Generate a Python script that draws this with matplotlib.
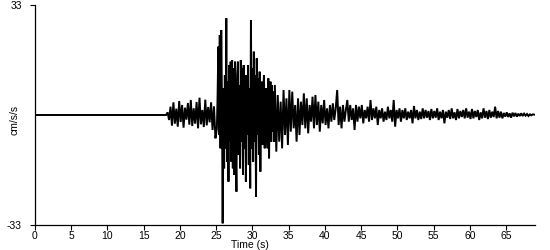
import numpy as np
import matplotlib
matplotlib.use("Agg")
import matplotlib.pyplot as plt

# ground acceleration record, cm/s/s
quiet_end = 18.1          # trace is flat until here

# P-wave arrival, 18.3 .. 24.9 s, every 0.2 s
p_start, p_dt = 18.3, 0.2
p_wave = [0.8, -1.5, 2.5, -3.2, 3.8, -2.6, 1.9, -3.5, 4.2, -2.1,
          3.0, -3.8, 2.2, -1.4, 3.6, -2.9, 4.5, -3.3, 2.0, -2.6,
          3.9, -4.0, 5.2, -2.8, 1.5, -3.6, 4.6, -3.1, 2.4, -2.2,
          3.8, -4.5, 2.6, -7.0]

# strong shaking, 25.1 .. 33.0 s, every 0.1 s
s_start, s_dt = 25.1, 0.1
s_wave = [-4, 6, 20.5, -6, 24, -10, 25.5, 4, -32.5, 8,
          -16, 12, -10, 29, -14, 10, -20, 15, -8, 16,
          -14, 16.5, -16, 14, -18, 16, -10, -23, 12, 16,
          -12, 9, -16, 16.5, -8, 14, -18, 15, -10, 12,
          -20, 12, -6, 15, -15, 8, -22, 28.5, -10, 14,
          -14, 19, -8, 12, -24.5, 17, -6, 11, -12, 13,
          -17, 6, 10, -9, 7, 12, -10, 4, 8, -6,
          -10, 11, -13, 6, 10, -8, 9, -5, 7, -8]

# coda, 33.1 .. 68.9 s, every 0.2 s
c_start, c_dt = 33.1, 0.2
coda = [9, -11, 6, -8, 4, -10, 7.5, -6, 5, -9,
        7.5, -5, 7, -4, 3, -8, 5, -6, 4, -3,
        6.5, -4, 5, -5.5, 3, -2, 5.5, -4, 6, -3,
        4, -5, 3, -2.5, 4.5, -3, 2, -4, 3, -2,
        3.5, -1.5, 2, 7.5, -3, 2.5, -4, 3, -2, 1.5,
        4.5, -2, 3, -1.5, 2, -4.5, 3, -2, 2.5, -1,
        3, -2.5, 1.5, -1, 2.5, -2, 4.5, -1.5, 2, -1,
        2.5, -3, 1.5, -1, 2, -2, 1, -1.5, 2.5, -1,
        1.5, -2, 4.5, -3.5, 1.5, -1, 2, -2, 1.5, -1,
        2, -1.5, 1, -1, 1.5, -2.5, 2.7, -1, 1.5, -1.5,
        1, -1.2, 2, -1, 1.5, -0.8, 1.2, -1.5, 1.8, -1,
        1.2, -0.8, 2, -1.5, 1, -1, 1.5, -2.5, 1, -0.8,
        1.5, -1.2, 2, -1, 0.8, -1.5, 1.8, -1, 1.2, -0.6,
        1.5, -1, 2, -0.8, 1, -1.2, 1.8, -1, 1.2, -0.6,
        1.5, -1.5, 0.8, -1, 2, -0.8, 1.2, -1.2, 1.5, -0.8,
        1, -0.6, 2.5, -1, 1.2, -0.8, 1, -1, 0.6, -0.5,
        0.8, -0.6, 0.5, -0.8, 0.7, -0.4, 0.6, -0.5, 0.4, -0.3,
        0.5, -0.3, 0.4, -0.2, 0.3, -0.3, 0.2, -0.1, 0.2, 0.1]

y_limit = 33
t_end = 69.0
x_ticks = list(range(0, 70, 5))

plt.rcParams["font.family"] = ["Liberation Sans", "DejaVu Sans"]


def seg_times(start, step, values):
    return start + step * np.arange(len(values))


t = np.concatenate((
    [0.0, quiet_end],
    seg_times(p_start, p_dt, p_wave),
    seg_times(s_start, s_dt, s_wave),
    seg_times(c_start, c_dt, coda),
))
acc = np.concatenate(([0.0, 0.0], p_wave, s_wave, coda)).astype(float)

fig = plt.figure(figsize=(5.5, 2.5), dpi=100)
ax = fig.add_axes([35 / 550, 25 / 250, 500 / 550, 220 / 250])

ax.plot(t, acc, color="black", lw=1.4, solid_joinstyle="miter")

ax.set_xlim(0, t_end)
ax.set_ylim(-y_limit, y_limit)
ax.set_xticks(x_ticks)
ax.set_yticks([-y_limit, y_limit])
ax.set_yticklabels([str(-y_limit), str(y_limit)])

for side in ["top", "right"]:
    ax.spines[side].set_visible(False)
for side in ["left", "bottom"]:
    ax.spines[side].set_linewidth(0.9)
    ax.spines[side].set_color("black")

ax.tick_params(axis="x", length=3.5, width=0.8, pad=1, labelsize=7.5)
ax.tick_params(axis="y", length=3.5, width=0.8, pad=6, labelsize=7.5)

fig.text(250 / 550, 1 - 245 / 250, "Time (s)", ha="center", va="center", fontsize=7.5)
fig.text(14 / 550, 1 - 120 / 250, "cm/s/s", ha="center", va="center",
         rotation=90, fontsize=7.5)

fig.savefig("out.png", dpi=100)
